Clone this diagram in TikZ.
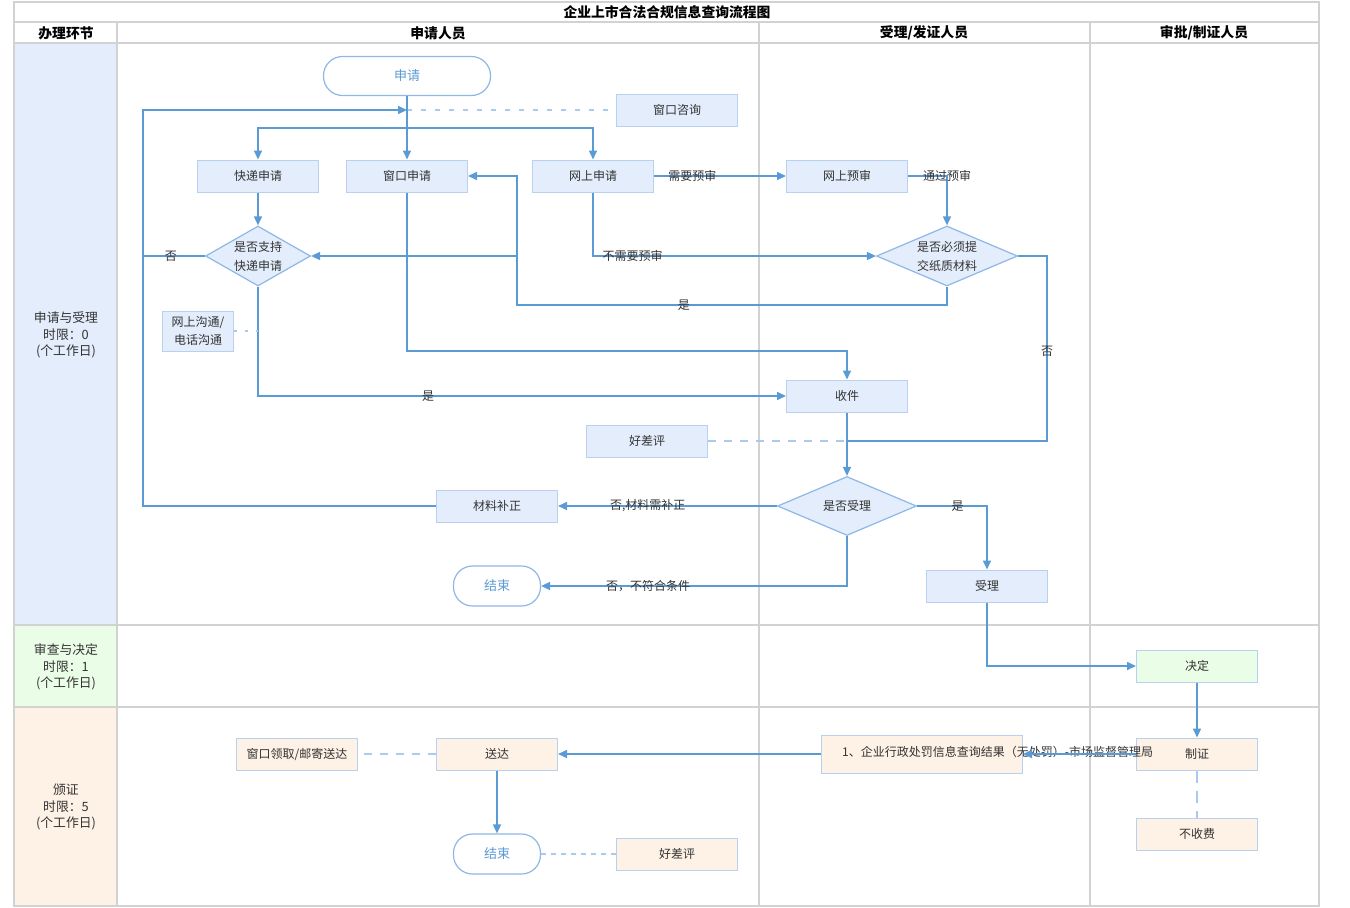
\documentclass[tikz,border=0pt]{standalone}
\usepackage{fontspec}
\setmainfont{Noto Sans CJK SC}
\usetikzlibrary{arrows.meta,shapes.geometric}
\definecolor{lineblue}{HTML}{5B9BD5}
\definecolor{dashblue}{HTML}{A9CAEE}
\definecolor{bluefill}{HTML}{E3EDFC}
\definecolor{boxline}{HTML}{B9D1F0}
\definecolor{dialine}{HTML}{8DB8E6}
\definecolor{greenfill}{HTML}{EAFDE6}
\definecolor{orangefill}{HTML}{FEF1E6}
\definecolor{gridgray}{HTML}{D2D2D2}
\definecolor{txt}{HTML}{333333}
\begin{document}
\begin{tikzpicture}[x=1pt,y=-1pt,
  font=\fontsize{12}{16}\selectfont,
  box/.style={draw=boxline, fill=bluefill, line width=1pt, minimum width=121pt, minimum height=32pt, inner sep=0pt, text=txt, align=center},
  gbox/.style={box, fill=greenfill},
  obox/.style={box, fill=orangefill},
  dia/.style={diamond, draw=dialine, fill=bluefill, line width=1.2pt, minimum height=60pt, inner sep=0pt, text=txt, align=center, font=\fontsize{12}{19}\selectfont},
  stad/.style={draw=dialine, fill=white, line width=1.2pt, rounded corners=19pt, minimum width=87pt, minimum height=40pt, text=lineblue, font=\fontsize{13}{15}\selectfont},
  flow/.style={draw=lineblue, line width=1.6pt, -{Triangle[length=9pt,width=8pt]}},
  flowline/.style={draw=lineblue, line width=1.6pt},
  dashlink/.style={draw=dashblue, line width=1.6pt, dash pattern=on 8pt off 8pt},
  lab/.style={text=txt, inner sep=0pt, font=\fontsize{12}{14}\selectfont},
  grid/.style={draw=gridgray, line width=1.8pt},
  head/.style={font=\bfseries\fontsize{13.8}{15}\selectfont, text=black},
  lane/.style={align=center, text=txt, font=\fontsize{12.8}{16.5}\selectfont}
]
\useasboundingbox (0,0) rectangle (1350,908);
% lane backgrounds
\fill[bluefill] (14,43) rectangle (117,625);
\fill[greenfill] (14,625) rectangle (117,707);
\fill[orangefill] (14,707) rectangle (117,906);
% grid
\draw[grid] (14,2) rectangle (1319,906);
\draw[grid] (14,22) -- (1319,22);
\draw[grid] (14,43) -- (1319,43);
\draw[grid] (14,625) -- (1319,625);
\draw[grid] (14,707) -- (1319,707);
\draw[grid] (117,22) -- (117,906);
\draw[grid] (759,22) -- (759,906);
\draw[grid] (1090,22) -- (1090,906);
% headers
\node[head] (title) at (667,12) {企业上市合法合规信息查询流程图};
\node[head] (h0) at (66,33) {办理环节};
\node[head] (h1) at (438,33) {申请人员};
\node[head] (h2) at (924,33) {受理/发证人员};
\node[head] (h3) at (1204,33) {审批/制证人员};
\node[lane] (l1) at (66,335) {申请与受理\\时限：0\\(个工作日)};
\node[lane] (l2) at (66,667) {审查与决定\\时限：1\\(个工作日)};
\node[lane] (l3) at (66,807) {颁证\\时限：5\\(个工作日)};
% nodes
\node[stad, minimum width=167pt, minimum height=39pt] (start) at (407,76) {申请};
\node[box] (zxzx) at (677,110) {窗口咨询};
\node[box] (kdsq) at (258,176) {快递申请};
\node[box] (cksq) at (407,176) {窗口申请};
\node[box] (wssq) at (593,176) {网上申请};
\node[box] (wsys) at (847,176) {网上预审};
\node[dia, aspect=1.75, minimum width=105pt] (d1) at (258,256) {是否支持\\快递申请};
\node[dia, aspect=2.4, minimum width=141pt] (d2) at (947,256) {是否必须提\\交纸质材料};
\node[box, minimum width=71pt, minimum height=40pt, font=\fontsize{12}{18}\selectfont] (gt) at (198,331) {网上沟通/\\电话沟通};
\node[box] (sj) at (847,396) {收件};
\node[box] (hcp1) at (647,441) {好差评};
\node[dia, aspect=2.4, minimum width=139pt, minimum height=59pt] (d3) at (847,506) {是否受理};
\node[box] (clbz) at (497,506) {材料补正};
\node[stad] (end1) at (497,586) {结束};
\node[box] (sl) at (987,586) {受理};
\node[gbox] (jd) at (1197,666) {决定};
\node[obox] (zz) at (1197,754) {制证};
\node[obox] (bsf) at (1197,834) {不收费};
\node[obox, minimum width=201pt, minimum height=38pt] (res) at (922,754) {};
\node[lab, anchor=west] (restext) at (842,752) {1、企业行政处罚信息查询结果（无处罚）-市场监督管理局};
\node[obox] (sd) at (497,754) {送达};
\node[obox] (lq) at (297,754) {窗口领取/邮寄送达};
\node[stad] (end2) at (497,854) {结束};
\node[obox] (hcp2) at (677,854) {好差评};
% coordinates
\coordinate (j1) at (407,110);
\coordinate (lft) at (143,110);
\coordinate (br) at (407,128);
\coordinate (k1) at (517,305);
\coordinate (k3) at (517,256);
\coordinate (k4) at (847,351);
\coordinate (k5) at (1047,441);
\coordinate (k6) at (847,441);
% connectors
\draw[dashlink, dash pattern=on 5pt off 9pt] (j1) -- (zxzx.west);
\draw[flow] (start) -- (cksq);
\draw[flow] (clbz.west) -| (lft) -- (j1);
\draw[flowline] (br -| kdsq.north) -- (br -| wssq.north);
\draw[flow] (br) -| (kdsq.north);
\draw[flow] (br) -| (wssq.north);
\draw[flow] (kdsq) -- (d1);
\draw[flowline] (d1.west) -- node[lab, pos=0.55]{否} (d1.west -| lft);
\draw[flow] (wssq) -- node[lab, pos=0.29]{需要预审} (wsys);
\draw[flow] (wsys.east) -| node[lab]{通过预审} (d2.north);
\draw[flow] (wssq.south) |- node[lab, pos=0.57]{不需要预审} (d2.west);
\draw[flow] (d2.south) |- node[lab, pos=0.806]{是} (k1) |- (cksq.east);
\draw[flow] (k3) -- (d1.east);
\draw[flow] (cksq.south) |- (k4) -- (sj.north);
\draw[flow] (d1.south) |- node[lab, pos=0.661]{是} (sj.west);
\draw[dashlink, dash pattern=on 3pt off 8pt] (gt.east) -- (gt.east -| d1.south);
\draw[flowline] (d2.east) -| node[lab, pos=0.757]{否} (k5) -- (k6);
\draw[flow] (sj) -- (d3);
\draw[dashlink] (hcp1.east) -- (k6);
\draw[flow] (d3.west) -- node[lab, pos=0.59]{否,材料需补正} (clbz.east);
\draw[flow] (d3.south) |- node[lab, pos=0.825]{否，不符合条件} (end1.east);
\draw[flow] (d3.east) -| node[lab, pos=0.29]{是} (sl.north);
\draw[flow] (sl.south) |- (jd.west);
\draw[flow] (jd) -- (zz);
\draw[flow] (zz.west) -- (res.east);
\draw[flow] (res.west) -- (sd.east);
\draw[dashlink] (sd.west) -- (lq.east);
\draw[flow] (sd) -- (end2);
\draw[dashlink, dash pattern=on 5pt off 5pt] (end2.east) -- (hcp2.west);
\draw[dashlink, dash pattern=on 12pt off 8pt] (zz.south) -- (bsf.north);
\end{tikzpicture}
\end{document}
